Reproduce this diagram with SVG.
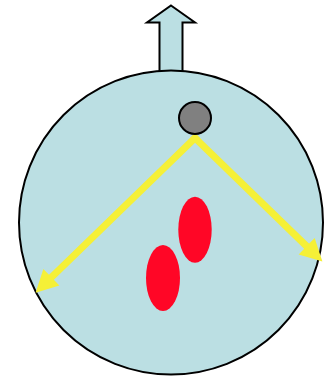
<svg xmlns="http://www.w3.org/2000/svg" width="335" height="377" viewBox="0 0 335 377">
  <style>
    .body { fill: #bbdfe3; stroke: #000; stroke-width: 2; }
    .gray { fill: #808080; stroke: #000; stroke-width: 2; }
    .red { fill: #ff0626; stroke: none; }
    .ray { stroke: #f5f037; stroke-width: 7; stroke-linecap: square; fill: none; }
  </style>
  <defs>
    <marker id="head" markerUnits="userSpaceOnUse" markerWidth="24" markerHeight="24" viewBox="0 -12 24 24" refX="10" refY="0" orient="auto" overflow="visible">
      <path d="M0,-11.5 L22,0 L0,11.5 z" fill="#f5f037"/>
    </marker>
  </defs>
  <g id="outlet">
    <polygon class="body" points="171,5.5 195,22.5 182.5,22.5 182.5,76 159.5,76 159.5,22.5 147,22.5"/>
  </g>
  <g id="cell">
    <circle class="body" cx="171" cy="222.5" r="152"/>
  </g>
  <g id="particle-a">
    <ellipse class="red" cx="195" cy="229.7" rx="16.7" ry="33"/>
  </g>
  <g id="particle-b">
    <ellipse class="red" cx="163" cy="278" rx="17" ry="33"/>
  </g>
  <g id="connectors">
    <path class="ray" d="M195,138 L44.2,284.3" marker-end="url(#head)"/>
    <path class="ray" d="M195,138 L313.8,253.2" marker-end="url(#head)"/>
  </g>
  <g id="source">
    <circle class="gray" cx="195" cy="118" r="16"/>
  </g>
</svg>
